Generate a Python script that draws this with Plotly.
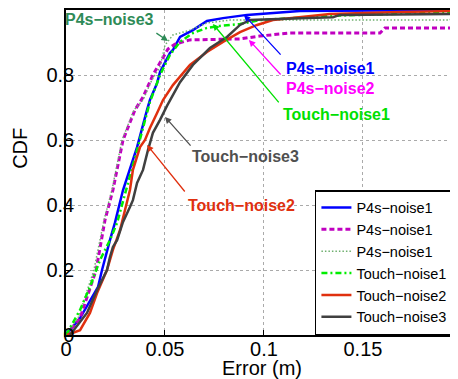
import plotly.graph_objects as go

# ---- data ----
p4s_noise1_x = [0, 0.0071, 0.0162, 0.0182, 0.0222, 0.0247, 0.0288, 0.0359, 0.0409, 0.0424, 0.0460, 0.0475,
                0.0525, 0.0540, 0.0576, 0.0641, 0.0712, 0.0793, 0.0914, 0.1045, 0.1182, 0.198]
p4s_noise1_y = [0, 0.052, 0.148, 0.200, 0.292, 0.345, 0.446, 0.578, 0.692, 0.723, 0.775, 0.809,
                0.868, 0.877, 0.917, 0.938, 0.966, 0.975, 0.985, 0.991, 0.997, 1.0]

p4s_noise2_x = [0, 0.0071, 0.0152, 0.0197, 0.0237, 0.0288, 0.0348, 0.0389, 0.0439, 0.0475, 0.0515, 0.0551,
                0.0626, 0.0879, 0.0980, 0.1131, 0.1586, 0.1611, 0.198]
p4s_noise2_y = [0, 0.052, 0.200, 0.354, 0.446, 0.600, 0.692, 0.732, 0.800, 0.840, 0.880, 0.895,
                0.908, 0.911, 0.920, 0.929, 0.929, 0.945, 0.945]

p4s_noise3_x = [0, 0.0061, 0.0141, 0.0192, 0.0232, 0.0283, 0.0343, 0.0389, 0.0434, 0.0475, 0.0500, 0.0540,
                0.0626, 0.0712, 0.0828, 0.1940, 0.1955, 0.198]
p4s_noise3_y = [0, 0.052, 0.200, 0.354, 0.446, 0.600, 0.692, 0.723, 0.785, 0.825, 0.892, 0.923,
                0.938, 0.960, 0.969, 0.969, 0.990, 0.990]

touch_noise1_x = [0, 0.0071, 0.0121, 0.0172, 0.0222, 0.0258, 0.0359, 0.0424, 0.0475, 0.0525, 0.0576,
                  0.0641, 0.0712, 0.0778, 0.0879, 0.0980, 0.1333, 0.198]
touch_noise1_y = [0, 0.077, 0.148, 0.231, 0.292, 0.345, 0.569, 0.717, 0.800, 0.862, 0.902,
                  0.929, 0.945, 0.951, 0.957, 0.969, 0.982, 0.994]

touch_noise2_x = [0.0005, 0.0071, 0.0121, 0.0157, 0.0207, 0.0237, 0.0273, 0.0288, 0.0323, 0.0338, 0.0374,
                  0.0399, 0.0424, 0.0460, 0.0490, 0.0540, 0.0626, 0.0712, 0.0793, 0.0879, 0.0965, 0.1045,
                  0.1182, 0.1333, 0.1687, 0.198]
touch_noise2_y = [0, 0.015, 0.068, 0.129, 0.200, 0.262, 0.323, 0.363, 0.446, 0.508, 0.578,
                  0.600, 0.637, 0.683, 0.723, 0.769, 0.831, 0.871, 0.902, 0.932, 0.954, 0.969,
                  0.978, 0.988, 0.994, 0.997]

touch_noise3_x = [0.002, 0.0106, 0.0157, 0.0207, 0.0222, 0.0237, 0.0258, 0.0288, 0.0323, 0.0338, 0.0359,
                  0.0389, 0.0414, 0.0439, 0.0475, 0.0510, 0.0576, 0.0641, 0.0727, 0.0813, 0.0879, 0.0929,
                  0.1182, 0.1348, 0.1384, 0.198]
touch_noise3_y = [0, 0.068, 0.138, 0.200, 0.240, 0.271, 0.292, 0.348, 0.394, 0.415, 0.468,
                  0.508, 0.569, 0.622, 0.662, 0.705, 0.778, 0.831, 0.883, 0.917, 0.954, 0.969,
                  0.975, 0.978, 0.985, 0.988]

legend_names = ["P4s\u2212noise1", "P4s\u2212noise1", "P4s\u2212noise1",
                "Touch\u2212noise1", "Touch\u2212noise2", "Touch\u2212noise3"]

x_ticks = [0, 0.05, 0.1, 0.15]
x_tick_text = ["0", "0.05", "0.1", "0.15"]
y_ticks = [0, 0.2, 0.4, 0.6, 0.8]
y_tick_text = ["0", "0.2", "0.4", "0.6", "0.8"]

# annotation labels: (text, text_x[paper], text_y[paper], tail_x, tail_y, tip_x, tip_y, color)
labels = [
    ("P4s\u2212noise3", -0.008, 0.972, 0.0449, 0.932, 0.0515, 0.905, "#2E8B57"),
    ("P4s\u2212noise1", 0.556, 0.8215, 0.1091, 0.858, 0.0899, 0.985, "#0000FF"),
    ("P4s\u2212noise2", 0.556, 0.760, 0.1091, 0.797, 0.0924, 0.908, "#FF00FF"),
    ("Touch\u2212noise1", 0.548, 0.677, 0.1081, 0.711, 0.0742, 0.957, "#00E000"),
    ("Touch\u2212noise3", 0.316, 0.548, 0.0636, 0.578, 0.0500, 0.671, "#505050"),
    ("Touch\u2212noise2", 0.306, 0.400, 0.0606, 0.437, 0.0409, 0.585, "#E0300F"),
]

FONT = "Liberation Sans, Arial, Helvetica, sans-serif"

fig = go.Figure()
series = [
    (p4s_noise1_x, p4s_noise1_y, dict(color="#0000FF", width=2.5)),
    (p4s_noise2_x, p4s_noise2_y, dict(color="#C000C0", width=3, dash="5px,3px")),
    (p4s_noise3_x, p4s_noise3_y, dict(color="#6FAF6F", width=1.5, dash="1.5px,2px")),
    (touch_noise1_x, touch_noise1_y, dict(color="#00EE00", width=2.5, dash="6px,3px,2px,3px")),
    (touch_noise2_x, touch_noise2_y, dict(color="#E0300F", width=2.5)),
    (touch_noise3_x, touch_noise3_y, dict(color="#404040", width=2.5)),
]
for (xs, ys, ln), name in zip(series, legend_names):
    fig.add_trace(go.Scatter(x=xs, y=ys, mode="lines", name=name, line=ln))

for text, tx, ty, ax_, ay_, px_, py_, col in labels:
    fig.add_annotation(x=tx, y=ty, xref="paper", yref="paper", text="<b>%s</b>" % text,
                       showarrow=False, xanchor="left", yanchor="middle",
                       font=dict(family=FONT, size=16, color=col))
    fig.add_annotation(x=px_, y=py_, ax=ax_, ay=ay_, axref="x", ayref="y", text="",
                       showarrow=True, arrowhead=2, arrowsize=1, arrowwidth=1.3,
                       arrowcolor=col)

# y-axis title placed as in the reference (above the axis middle)
fig.add_annotation(x=-0.118, y=0.575, xref="paper", yref="paper", text="CDF",
                   textangle=-90, showarrow=False, xanchor="center", yanchor="middle",
                   font=dict(family=FONT, size=20, color="black"))

# The page body has an 8px margin, so the figure is drawn 8px smaller/offset.
fig.update_layout(
    width=450, height=371,
    margin=dict(l=58, r=0, t=2, b=44),
    paper_bgcolor="white", plot_bgcolor="white",
    font=dict(family=FONT, size=20, color="black"),
    showlegend=True,
    legend=dict(x=0.635, y=0.446, xanchor="left", yanchor="top",
                bgcolor="white", bordercolor="black", borderwidth=1.5,
                font=dict(family=FONT, size=14.5, color="black"),
                itemwidth=30, tracegroupgap=0),
)
fig.update_xaxes(range=[0, 0.198], tickvals=x_ticks, ticktext=x_tick_text,
                 showline=True, linecolor="black", linewidth=1.5, mirror=True,
                 ticks="inside", ticklen=5, tickcolor="black",
                 showgrid=True, gridcolor="#AAAAAA", gridwidth=1, griddash="dot",
                 zeroline=False, tickfont=dict(size=20), ticklabelstandoff=-5,
                 title=dict(text="Error (m)", font=dict(size=20), standoff=4))
fig.update_yaxes(range=[0, 1], tickvals=y_ticks, ticktext=y_tick_text,
                 showline=True, linecolor="black", linewidth=1.5, mirror=False,
                 ticks="inside", ticklen=5, tickcolor="black",
                 showgrid=True, gridcolor="#AAAAAA", gridwidth=1, griddash="dot",
                 zeroline=False, tickfont=dict(size=20), ticklabelstandoff=-14)

fig.write_html("out.html")
